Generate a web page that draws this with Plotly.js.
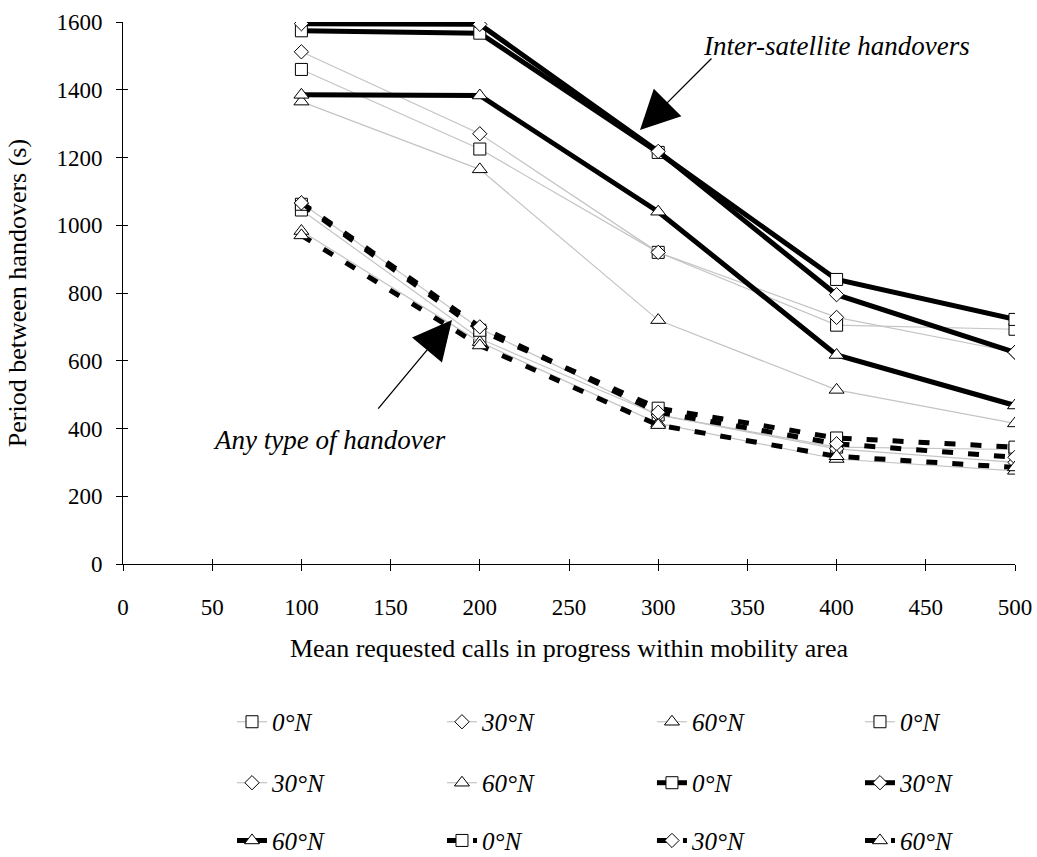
<!DOCTYPE html>
<html>
<head>
<meta charset="utf-8">
<script src="https://cdn.plot.ly/plotly-3.0.1.min.js"></script>
<style>html,body{margin:0;padding:0;background:#fff;}#chart{width:1037px;height:857px;}</style>
</head>
<body>
<div id="chart"></div>
<script>
// Data
const calls = [100, 200, 300, 400, 500];
const xTicks = [0, 50, 100, 150, 200, 250, 300, 350, 400, 450, 500];
const yTicks = [0, 200, 400, 600, 800, 1000, 1200, 1400, 1600];
const latLabels = ['0°N', '30°N', '60°N'];

// Thin grey set A (inter-satellite)
const greyA_0N  = [1460, 1225, 920, 705, 693];
const greyA_30N = [1512, 1270, 920, 728, 625];
const greyA_60N = [1365, 1165, 720, 514, 415];
// Thin grey set B (any type)
const greyB_0N  = [1045, 665, 440, 345, 338];
const greyB_30N = [1065, 695, 440, 340, 300];
const greyB_60N = [983, 655, 415, 310, 275];
// Thick solid (inter-satellite)
const solid_0N  = [1574, 1567, 1215, 840, 722];
const solid_30N = [1595, 1593, 1218, 795, 625];
const solid_60N = [1385, 1383, 1040, 617, 468];
// Thick dashed (any type)
const dash_0N  = [1062, 690, 460, 372, 345];
const dash_30N = [1066, 700, 448, 355, 315];
const dash_60N = [970, 645, 410, 318, 285];

const symbols = ['square', 'diamond', 'triangle-up'];
const sizes = [12, 11, 13];

function mk(y, idx, style) {
  const base = {
    x: calls, y: y, type: 'scatter', mode: 'lines+markers',
    name: latLabels[idx],
    marker: {symbol: symbols[idx], size: sizes[idx], color: '#ffffff', line: {color: '#000', width: 1}}
  };
  if (style === 'grey') base.line = {color: '#c4c4c4', width: 1.2};
  if (style === 'solid') base.line = {color: '#000', width: 5};
  if (style === 'dash') base.line = {color: '#000', width: 5, dash: '11px,15px'};
  return base;
}

const traces = [
  mk(greyA_0N, 0, 'grey'),
  mk(greyA_30N, 1, 'grey'),
  mk(greyA_60N, 2, 'grey'),
  mk(greyB_0N, 0, 'grey'),
  mk(greyB_30N, 1, 'grey'),
  mk(greyB_60N, 2, 'grey'),
  mk(solid_0N, 0, 'solid'),
  mk(solid_30N, 1, 'solid'),
  mk(solid_60N, 2, 'solid'),
  mk(dash_0N, 0, 'dash'),
  mk(dash_30N, 1, 'dash'),
  mk(dash_60N, 2, 'dash')
];

const fontFam = 'Liberation Serif, Times New Roman, serif';

// legend grid: 4 columns x 3 rows, one legend per entry
const legendColX = [0.1222, 0.3576, 0.5930, 0.8262];
const legendRowY = [-0.2915, -0.404, -0.5105];

const layout = {
  width: 1037, height: 857,
  margin: {l: 123, r: 22, t: 22, b: 293, autoexpand: false},
  paper_bgcolor: '#fff', plot_bgcolor: '#fff',
  font: {family: fontFam, size: 23, color: '#000'},
  showlegend: true,
  xaxis: {
    range: [0, 500], tickvals: xTicks, ticktext: xTicks.map(String),
    showgrid: false, zeroline: false, showline: true, linecolor: '#000', linewidth: 1,
    ticks: 'outside', ticklen: 6, tickcolor: '#000', tickwidth: 1, ticklabelstandoff: 16,
    tickfont: {family: fontFam, size: 23},
    title: {text: 'Mean requested calls in progress within mobility area', font: {family: fontFam, size: 26}, standoff: 20}
  },
  yaxis: {
    range: [0, 1600], tickvals: yTicks, ticktext: yTicks.map(String),
    showgrid: false, zeroline: false, showline: true, linecolor: '#000', linewidth: 1,
    ticks: 'outside', ticklen: 6, tickcolor: '#000', tickwidth: 1, ticklabelstandoff: 9,
    tickfont: {family: fontFam, size: 23},
    title: {text: 'Period between handovers (s)', font: {family: fontFam, size: 26}, standoff: 22}
  },
  xaxis2: {range: [0, 500], overlaying: 'x', tickvals: xTicks, showticklabels: false, ticks: 'inside', ticklen: 5, tickcolor: '#000', showgrid: false, zeroline: false, showline: false, side: 'bottom'},
  yaxis2: {range: [0, 1600], overlaying: 'y', tickvals: yTicks, showticklabels: false, ticks: 'inside', ticklen: 5, tickcolor: '#000', showgrid: false, zeroline: false, showline: false, side: 'left'},
  annotations: [
    {x: 399.7, y: 1529, xref: 'x', yref: 'y', text: 'Inter-satellite handovers', showarrow: false,
     font: {family: fontFam, size: 27, style: 'italic'}, xanchor: 'center', yanchor: 'middle'},
    {x: 289.8, y: 1281, xref: 'x', yref: 'y', text: '', showarrow: true, arrowhead: 2, arrowsize: 6, arrowwidth: 1.3,
     arrowcolor: '#000', ax: 73, ay: -73},
    {x: 116, y: 366, xref: 'x', yref: 'y', text: 'Any type of handover', showarrow: false,
     font: {family: fontFam, size: 27, style: 'italic'}, xanchor: 'center', yanchor: 'middle'},
    {x: 184.4, y: 720, xref: 'x', yref: 'y', text: '', showarrow: true, arrowhead: 2, arrowsize: 6, arrowwidth: 1.3,
     arrowcolor: '#000', ax: -75, ay: 90}
  ]
};

traces.forEach(function (t, i) {
  const key = i === 0 ? 'legend' : 'legend' + (i + 1);
  t.legend = key;
  layout[key] = {
    orientation: 'h', x: legendColX[i % 4], y: legendRowY[Math.floor(i / 4)],
    xanchor: 'left', yanchor: 'middle', itemwidth: 30,
    font: {family: fontFam, size: 25, color: '#000', style: 'italic'},
    bgcolor: 'rgba(0,0,0,0)', itemclick: false
  };
});

// invisible trace to carry overlay axes with inner tick marks
traces.push({x: [0], y: [0], xaxis: 'x2', yaxis: 'y2', mode: 'markers', marker: {opacity: 0}, showlegend: false, hoverinfo: 'skip'});

Plotly.newPlot('chart', traces, layout, {staticPlot: true, displayModeBar: false});
</script>
</body>
</html>
